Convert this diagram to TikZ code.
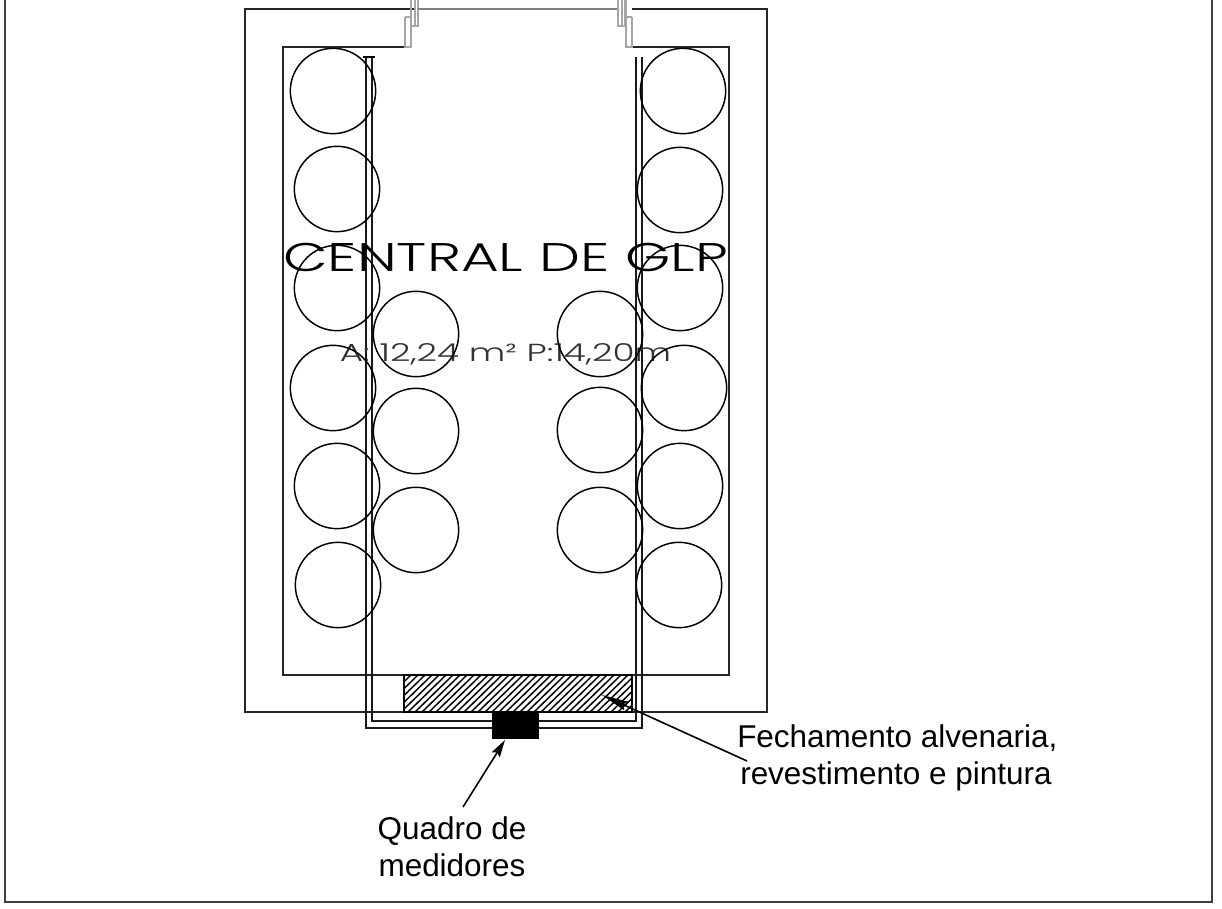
\documentclass[tikz,border=0pt]{standalone}
\usepackage{fontspec}
\setmainfont{Liberation Sans}
\newfontfamily\gothic[FakeStretch=1.45]{Poppins Light}
\usetikzlibrary{arrows.meta}
\tikzset{
 wall/.style={line width=1.5pt,black!85},
 gray frame/.style={line width=0.9pt,black!35},
 gate line/.style={line width=0.8pt,black!50},
 tank/.style={draw,circle,line width=1.1pt,minimum size=64pt,inner sep=0pt},
 pipe/.style={line width=1.3pt,black!90},
 lbl/.style={font=\fontsize{23.6}{27}\selectfont,inner sep=0pt,anchor=base},
 leader/.style={line width=1.2pt},
 short head/.style={-{Stealth[length=13pt,width=7pt,inset=2pt]}},
 long head/.style={-{Stealth[length=20pt,width=7pt,inset=3pt]}},
}
\begin{document}
\begin{tikzpicture}[x=0.75pt,y=-0.75pt]
\useasboundingbox (0,0) rectangle (1222,909);
% sheet frame
\draw[line width=1.3pt,black!75] (5,0) -- (5,902) -- (1212,902) -- (1212,0);
% walls
\draw[wall] (416,9) -- (245,9) -- (245,712) -- (767,712) -- (767,9) -- (632,9);
\draw[wall] (405,47) -- (283,47) -- (283,675) -- (729,675) -- (729,47) -- (632,47);
% gate
\draw[gray frame] (405,17) -- (405,47) -- (411,47) -- (411,0);
\draw[gray frame] (405,17) -- (411,17);
\draw[gray frame] (411,0) -- (411,26) -- (418,26) -- (418,0) (415,0) -- (415,26);
\draw[gate line] (418,9) -- (618,9);
\draw[gray frame] (618,0) -- (618,26) -- (625,26) -- (625,0) (622,0) -- (622,26);
\draw[gray frame] (632,17) -- (632,47) -- (626,47) -- (626,0);
\draw[gray frame] (626,17) -- (632,17);
% hatched closure
\begin{scope}
\clip (404,675) rectangle (632,712);
\foreach \h in {0,7,...,280}{
  \draw[line width=1.1pt] ({404+\h-38},712) -- ({404+\h},675);
}
\end{scope}
\node[draw,line width=1.2pt,minimum width=171pt,minimum height=27.75pt,inner sep=0pt] (closure) at (518,693.5) {};
% pipes
\draw[pipe] (366,57) -- (366,728) -- (642,728) -- (642,57);
\draw[pipe] (372,57) -- (372,721) -- (636,721) -- (636,57);
\draw[line width=2pt] (363,57) -- (375,57);
% meter box
\node[fill=black,minimum width=35.25pt,minimum height=20.25pt,inner sep=0pt] (box) at (515.5,725.5) {};
% text
\node[font=\gothic\fontsize{30}{30}\selectfont,inner sep=0pt,anchor=base] (title) at (505.5,272) {CENTRAL DE GLP};
\node[font=\gothic\fontsize{18.5}{20}\selectfont,inner sep=0pt,anchor=base,black!80] (area) at (505.5,362) {A: 12,24 m² P:14,20m};
% tanks
\foreach \n/\x/\y in {a/333/91,b/337/189,c/337/288,d/333/388,e/337/486,f/338/585,
  g/416/334,h/416/431,i/416/530,j/600/334,k/600/430,l/600/530,
  m/683/91,n/680/190,o/680/288,p/684/388,q/680/486,r/679/585}{
  \node[tank] (t\n) at (\x,\y) {};
}
% labels
\node[lbl] (quadro) at (452,839) {Quadro de};
\node[lbl] (medid) at (452,876) {medidores};
\node[lbl,anchor=base west] (fech1) at (737,747) {Fechamento alvenaria,};
\node[lbl,anchor=base west] (fech2) at (740,784) {revestimento e pintura};
\coordinate (qtail) at (463,807);
\coordinate (qtip) at (505,740);
\coordinate (ftail) at (747,761);
\coordinate (ftip) at (602,695);
\draw[leader,short head] (qtail) -- (qtip);
\draw[leader,long head] (ftail) -- (ftip);
\end{tikzpicture}
\end{document}
